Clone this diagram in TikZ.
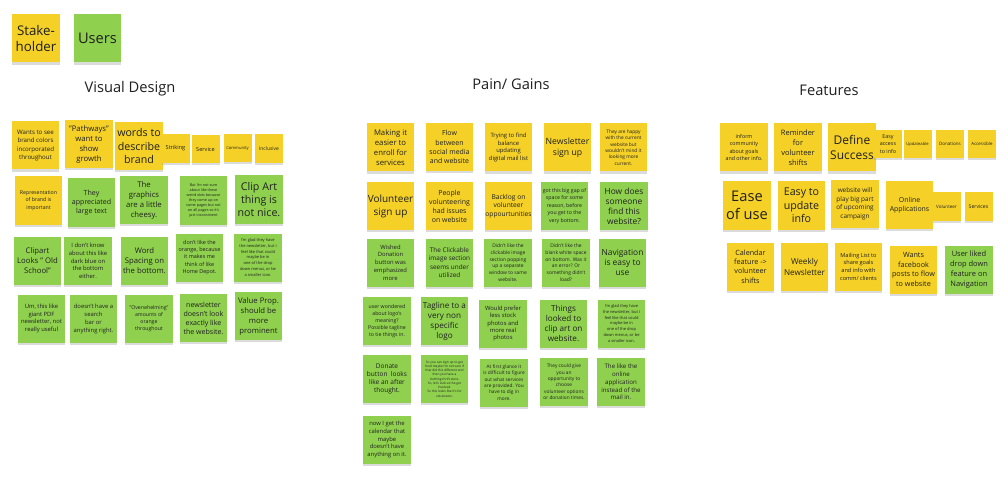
\documentclass[tikz,border=0pt]{standalone}
\usepackage{fontspec}
\setmainfont{Open Sans}
\usepackage{tikz}
\usetikzlibrary{shadows}
\definecolor{stickyyellow}{HTML}{F5D128}
\definecolor{stickygreen}{HTML}{8FD14F}
\definecolor{ink}{HTML}{1F1F1F}

\tikzset{
  note/.style={minimum width=35.5pt, minimum height=36pt, inner sep=0pt, align=center, text=ink,
    drop shadow={shadow xshift=0pt, shadow yshift=-1.6pt, opacity=.28}},
  tag/.style={note, minimum width=21pt, minimum height=21.5pt},
  yel/.style={fill=stickyyellow},
  grn/.style={fill=stickygreen},
  fs/.style 2 args={font=\fontsize{#1}{#2}\selectfont},
  title/.style={font=\fontsize{11}{13}\selectfont, text=ink},
}

\begin{document}
\begin{tikzpicture}[x=0.75pt, y=-0.75pt]
	\useasboundingbox[fill=white] (0,0) rectangle (1008,485);

	\node[note, yel, fs={10}{12}] (stake) at (36,38.5) {Stake-\\holder};
	\node[note, grn, fs={11}{13}] (users) at (97.5,38.5) {Users};

	\node[title] (visual) at (130,89) {Visual Design};
	\node[title] (pain) at (511,84) {Pain/ Gains};
	\node[title] (feat) at (829,90) {Features};

	\node[note, yel, fs={4.6}{6.2}] (vd11) at (35.5,145.5) {Wants to see\\brand colors\\incorporated\\throughout};
	\node[note, yel, fs={5.8}{7.5}] (vd12) at (89,144) {"Pathways"\\want to\\show\\growth};
	\node[note, yel, fs={8}{9.8}] (vd13) at (139,146) {words to\\describe\\brand};
	\node[tag, yel, fs={4.2}{5}] (vd14) at (175.5,148.5) {Striking};
	\node[tag, yel, fs={4.2}{5}] (vd15) at (205.5,149) {Service};
	\node[tag, yel, fs={3.1}{4}] (vd16) at (237.5,148) {Community};
	\node[tag, yel, fs={3.7}{4.5}] (vd17) at (269,148.5) {Inclusive};

	\node[note, yel, fs={3.9}{5.6}] (vd21) at (38.5,200.5) {Representation\\of brand is\\important};
	\node[note, grn, fs={5.3}{6.8}] (vd22) at (91.5,202.5) {They\\appreciated\\large text};
	\node[note, grn, fs={5.8}{7.5}] (vd23) at (144,200) {The\\graphics\\are a little\\cheesy.};
	\node[note, grn, fs={2.8}{3.75}] (vd24) at (203.5,200.5) {But I'm not sure\\about like these\\weird dots because\\they come up on\\some pages but not\\on all pages so it's\\just inconsistent};
	\node[note, grn, fs={8}{10}] (vd25) at (259,199.5) {Clip Art\\thing is\\not nice.};

	\node[note, grn, fs={5.8}{7.5}] (vd31) at (37.5,261) {Clipart\\Looks " Old\\School"};
	\node[note, grn, fs={4.4}{5.8}] (vd32) at (88,261) {I don't know\\about this like\\dark blue on\\the bottom\\either.};
	\node[note, grn, fs={5.8}{7.5}] (vd33) at (144.5,261) {Word\\Spacing on\\the bottom.};
	\node[note, grn, fs={4.1}{5.4}] (vd34) at (199.5,257.5) {don't like the\\orange, because\\it makes me\\think of like\\Home Depot.};
	\node[note, grn, fs={3}{4.3}] (vd35) at (258,257.5) {I'm glad they have\\the newsletter, but I\\feel like that could\\maybe be in\\one of the drop\\down menus, or be\\a smaller icon.};

	\node[note, grn, fs={4.4}{5.8}] (vd41) at (41.5,318.5) {Um, this like\\giant PDF\\newsletter, not\\really useful};
	\node[note, grn, fs={4.4}{5.8}] (vd42) at (93.5,319) {doesn't have a\\search\\bar or\\anything right.};
	\node[note, grn, fs={3.9}{5.2}] (vd43) at (149,319) {"Overwhelming"\\amounts of\\orange\\throughout};
	\node[note, grn, fs={5.3}{6.8}] (vd44) at (203.5,318) {newsletter\\doesn't look\\exactly like\\the website.};
	\node[note, grn, fs={5.8}{7.5}] (vd45) at (258.5,316) {Value Prop.\\should be\\more\\prominent};

	\node[note, yel, fs={5.8}{7.5}] (pg11) at (390.5,147.5) {Making it\\easier to\\enroll for\\services};
	\node[note, yel, fs={5.2}{6.8}] (pg12) at (449.5,147) {Flow\\between\\social media\\and website};
	\node[note, yel, fs={4.4}{5.7}] (pg13) at (508.5,147.5) {Trying to find\\balance\\updating\\digital mail list};
	\node[note, yel, fs={6.5}{8}] (pg14) at (567.5,147.5) {Newsletter\\sign up};
	\node[note, yel, fs={3.6}{4.8}] (pg15) at (623.5,147.5) {They are happy\\with the current\\website but\\wouldn't mind it\\looking more\\current.};

	\node[note, yel, fs={7.5}{9.8}] (pg21) at (390.5,206) {Volunteer\\sign up};
	\node[note, yel, fs={5.2}{6.8}] (pg22) at (449.5,206) {People\\volunteering\\had issues\\on website};
	\node[note, yel, fs={5}{6.5}] (pg23) at (508.5,206) {Backlog on\\volunteer\\oppourtunities};
	\node[note, grn, fs={3.9}{5.6}] (pg24) at (564.5,206) {got this big gap of\\space for some\\reason, before\\you get to the\\very bottom.};
	\node[note, grn, fs={6.3}{7.5}] (pg25) at (624,206) {How does\\someone\\find this\\website?};

	\node[note, grn, fs={4.4}{5.8}] (pg31) at (390.5,262.5) {Wished\\Donation\\button was\\emphasized\\more};
	\node[note, grn, fs={4.8}{6.3}] (pg32) at (449.5,262.5) {The Clickable\\image section\\seems under\\utilized};
	\node[note, grn, fs={3.7}{5}] (pg33) at (508,262.5) {Didn't like the\\clickable image\\section popping\\up a separate\\window to same\\website.};
	\node[note, grn, fs={3.7}{5}] (pg34) at (566,262.5) {Didn't like the\\blank white space\\on bottom. Was it\\an error? Or\\something didn't\\load?};
	\node[note, grn, fs={6.3}{7.5}] (pg35) at (622.5,262.5) {Navigation\\is easy to\\use};

	\node[note, grn, fs={3.9}{5.2}] (pg41) at (387,321) {user wondered\\about logo's\\meaning?\\Possible tagline\\to tie things in.};
	\node[note, grn, fs={6.1}{7.5}] (pg42) at (444.5,321) {Tagline to a\\very non\\specific\\logo};
	\node[note, grn, fs={4.4}{5.6}] (pg43) at (503,323.5) {Would prefer\\less stock\\photos and\\more real\\photos};
	\node[note, grn, fs={6.1}{7.5}] (pg44) at (563.5,323.5) {Things\\looked to\\clip art on\\website.};
	\node[note, grn, fs={3}{4.3}] (pg45) at (621.5,323.5) {I'm glad they have\\the newsletter, but I\\feel like that could\\maybe be in\\one of the drop\\down menus, or be\\a smaller icon.};

	\node[note, grn, fs={4.9}{6.2}] (pg51) at (387,379) {Donate\\button~ looks\\like an after\\thought.};
	\node[note, grn, fs={2.4}{3.2}] (pg52) at (444.5,379) {So you can sign up to get\\food maybe I'm not sure if\\that did this different and\\then you have a\\clothing thrift store.\\So, let's look at the get\\involved.\\So this looks like it's for\\volunteers.};
	\node[note, grn, fs={3.6}{4.8}] (pg53) at (504,382.5) {At first glance it\\is difficult to figure\\out what services\\are provided. You\\have to dig in\\more.};
	\node[note, grn, fs={3.6}{4.8}] (pg54) at (564,382) {They could give\\you an\\opportunity to\\choose\\volunteer options\\or donation times.};
	\node[note, grn, fs={4.6}{5.8}] (pg55) at (621,382) {The like the\\online\\application\\instead of the\\mail in.};

	\node[note, grn, fs={4.4}{5.8}] (pg61) at (387,439.5) {now I get the\\calendar that\\maybe\\doesn't have\\anything on it.};

	\node[note, yel, fs={4}{5.7}] (ft11) at (744,147.5) {inform\\community\\about goals\\and other info.};
	\node[note, yel, fs={5.6}{7.5}] (ft12) at (798,147.5) {Reminder\\for\\volunteer\\shifts};
	\node[note, yel, fs={9}{11.3}] (ft13) at (852,147.5) {Define\\Success};
	\node[tag, yel, fs={4}{5.8}] (ft14) at (888,144) {Easy\\access\\to info};
	\node[tag, yel, fs={3.1}{4}] (ft15) at (917.5,144) {Updateable};
	\node[tag, yel, fs={3.4}{4}] (ft16) at (950,144) {Donations};
	\node[tag, yel, fs={3.3}{4}] (ft17) at (982,144) {Accessible};

	\node[note, yel, fs={11}{13.5}] (ft21) at (747,205.5) {Ease\\of use};
	\node[note, yel, fs={8}{10}] (ft22) at (801.5,205.5) {Easy to\\update\\info};
	\node[note, yel, fs={4.8}{6.5}] (ft23) at (855,204) {website will\\play big part\\of upcoming\\campaign};
	\node[note, yel, fs={5.2}{6.8}] (ft24) at (909.5,205) {Online\\Applications};
	\node[tag, yel, fs={3.4}{4}] (ft25) at (946.5,206.5) {Volunteer};
	\node[tag, yel, fs={3.9}{4.5}] (ft26) at (978.5,206.5) {Services};

	\node[note, yel, fs={5.4}{7.1}] (ft31) at (750.5,266.5) {Calendar\\feature ->\\volunteer\\shifts};
	\node[note, yel, fs={6.1}{8.2}] (ft32) at (804.5,266.5) {Weekly\\Newsletter};
	\node[note, yel, fs={4.2}{5.8}] (ft33) at (858.5,266.5) {Mailing List to\\share goals\\and info with\\comm/ clients};
	\node[note, yel, fs={5.4}{7.1}] (ft34) at (913.5,269.5) {Wants\\facebook\\posts to flow\\to website};
	\node[note, grn, fs={5.6}{7.3}] (ft35) at (969,269.5) {User liked\\drop down\\feature on\\Navigation};
\end{tikzpicture}
\end{document}
